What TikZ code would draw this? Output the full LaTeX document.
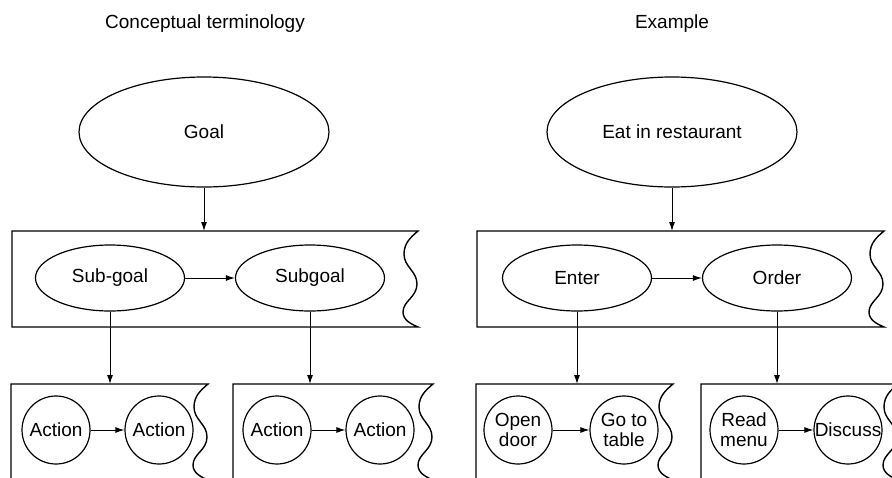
\documentclass[tikz,border=0pt]{standalone}
\usepackage{fontspec}
\setmainfont{Liberation Sans}
\usetikzlibrary{arrows.meta,shapes.geometric}

\tikzset{
  every node/.style={font=\fontsize{19}{20}\selectfont},
  boxline/.style={line width=1.4pt, line join=miter},
  goalnode/.style={draw, ellipse, line width=1.2pt, minimum width=250pt, minimum height=110pt, inner sep=0pt},
  subnode/.style={draw, ellipse, line width=1.2pt, minimum width=149pt, minimum height=66pt, inner sep=0pt},
  actnode/.style={draw, circle, line width=1.2pt, minimum size=68pt, inner sep=0pt, align=center},
  link/.style={line width=1pt, -{Latex[length=9pt,width=6pt]}},
  heading/.style={anchor=base},
}

% frame with a torn (wavy) right side: left x, top y, corner x, bottom y
\newcommand{\tornbox}[4]{%
  \draw[boxline] (#3,#4) -- (#1,#4) -- (#1,#2) -- (#3,#2)
    .. controls ({#3-7},{#2+6}) and ({#3-14},{#2+12}) .. ({#3-14},{#2+23})
    .. controls ({#3-14},{#2+36}) and ({#3-1},{#2+40}) .. ({#3-1},{#2+53})
    .. controls ({#3-1},{#2+66}) and ({#3-15},{#2+70}) .. ({#3-15},{#2+81})
    .. controls ({#3-15},{#2+89}) and ({#3-7},{#2+93}) .. cycle;}

\begin{document}
\begin{tikzpicture}[x=1pt,y=-1pt]
\useasboundingbox (0,0) rectangle (892,477);
\clip (0,0) rectangle (892,477);

% column headings
\node[heading] (head1) at (205,28) {Conceptual terminology};
\node[heading] (head2) at (672,28) {Example};

% goals
\node[goalnode] (goal) at (204,132) {Goal};
\node[goalnode] (eat)  at (672,132) {Eat in restaurant};

% sub-goal level
\tornbox{12}{231}{418}{327}
\tornbox{477}{231}{884}{327}
\coordinate (top1) at (204,231);
\coordinate (top2) at (672,231);
\node[subnode] (sg1)   at (110,278) {Sub-goal};
\node[subnode] (sg2)   at (310,278) {Subgoal};
\node[subnode] (enter) at (577,278) {Enter};
\node[subnode] (order) at (777,278) {Order};

% action level
\tornbox{11}{384}{208}{480}
\tornbox{233}{384}{433}{480}
\tornbox{476}{384}{673}{480}
\tornbox{701}{384}{898}{480}
\coordinate (low1) at (110,384);
\coordinate (low2) at (310,384);
\coordinate (low3) at (577,384);
\coordinate (low4) at (777,384);
\node[actnode] (a1) at (56,430)  {Action};
\node[actnode] (a2) at (159,430) {Action};
\node[actnode] (a3) at (277,430) {Action};
\node[actnode] (a4) at (380,430) {Action};
\node[actnode] (od) at (518,430) {Open\\door};
\node[actnode] (gt) at (624,430) {Go to\\table};
\node[actnode] (rm) at (744,430) {Read\\menu};
\node[actnode] (ds) at (848,430) {Discuss};

% connectors
\draw[link] (goal) -- (top1);
\draw[link] (eat) -- (top2);
\draw[link] (sg1) -- (sg2);
\draw[link] (enter) -- (order);
\draw[link] (sg1) -- (low1);
\draw[link] (sg2) -- (low2);
\draw[link] (enter) -- (low3);
\draw[link] (order) -- (low4);
\draw[link] (a1) -- (a2);
\draw[link] (a3) -- (a4);
\draw[link] (od) -- (gt);
\draw[link] (rm) -- (ds);
\end{tikzpicture}
\end{document}
